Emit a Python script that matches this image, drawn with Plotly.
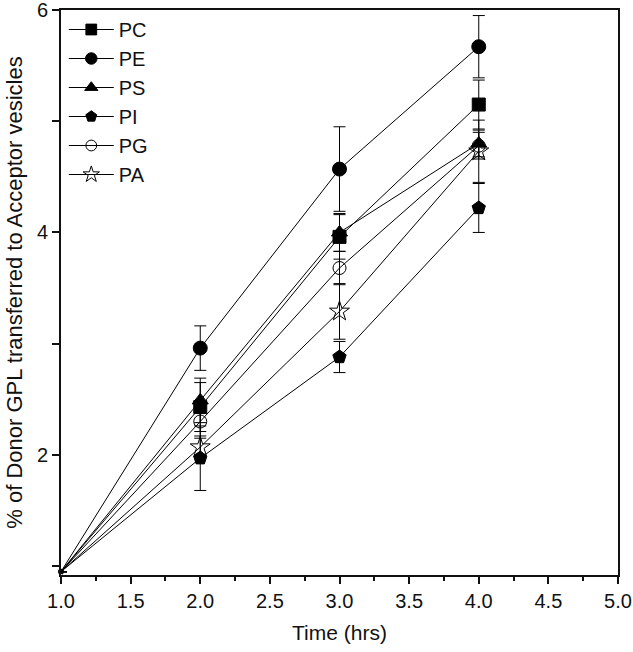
import plotly.graph_objects as go

time_hrs = [1, 2, 3, 4]

series_names = ["PC", "PE", "PS", "PI", "PG", "PA"]

pc_values = [0.95, 2.43, 3.96, 5.15]
pe_values = [0.95, 2.96, 4.57, 5.67]
ps_values = [0.95, 2.49, 4.00, 4.80]
pi_values = [0.95, 1.97, 2.88, 4.22]
pg_values = [0.95, 2.30, 3.68, 4.78]
pa_values = [0.95, 2.07, 3.29, 4.73]

pc_err = [0, 0.22, 0.20, 0.22]
pe_err = [0, 0.20, 0.38, 0.28]
ps_err = [0, 0.20, 0.17, 0.12]
pi_err = [0, 0.29, 0.14, 0.22]
pg_err = [0, 0.15, 0.15, 0.12]
pa_err = [0, 0.10, 0.25, 0.28]

x_tick_vals = [1.0, 1.5, 2.0, 2.5, 3.0, 3.5, 4.0, 4.5, 5.0]
y_tick_vals = [2, 4, 6]

values = [pc_values, pe_values, ps_values, pi_values, pg_values, pa_values]
errors = [pc_err, pe_err, ps_err, pi_err, pg_err, pa_err]

symbols = ["square", "circle", "triangle-up", "pentagon", "circle-open", "star-open"]
base_sizes = [13, 14, 14, 14, 13, 15]

fig = go.Figure()
for name, vals, errs, sym, sz in zip(series_names, values, errors, symbols, base_sizes):
    fig.add_trace(go.Scatter(
        x=time_hrs, y=vals, name=name, mode="lines+markers",
        line=dict(color="#000000", width=1),
        marker=dict(symbol=sym, size=[4, sz, sz, sz], color="#000000",
                    line=dict(color="#000000", width=1), opacity=1),
        error_y=dict(type="data", array=errs, visible=True,
                     color="#000000", thickness=1, width=6),
        cliponaxis=False,
    ))

fig.update_layout(
    template="none",
    width=633, height=652,
    margin=dict(l=61, r=15, t=10, b=77, autoexpand=False),
    paper_bgcolor="white", plot_bgcolor="white",
    font=dict(family="Liberation Sans, Arial, sans-serif", color="#111", size=20),
    legend=dict(x=0.005, y=1.0, xanchor="left", yanchor="top",
                bgcolor="rgba(0,0,0,0)", font=dict(size=20), itemwidth=45,
                tracegroupgap=0),
    showlegend=True,
)

fig.update_xaxes(
    automargin=False, ticklabeloverflow="allow",
    range=[1, 5], tickvals=x_tick_vals, tickformat=".1f",
    showline=True, linecolor="#111", linewidth=2, mirror=True,
    ticks="outside", ticklen=7, tickwidth=1.5, tickcolor="#111",
    minor=dict(dtick=0.25, tick0=0, ticks="outside", ticklen=4, tickwidth=1.5, tickcolor="#111"),
    showgrid=False, zeroline=False,
    title=dict(text="Time (hrs)", font=dict(size=21), standoff=14),
    tickfont=dict(size=20),
)
fig.update_yaxes(
    automargin=False, ticklabeloverflow="allow",
    range=[0.92, 6], tickvals=y_tick_vals,
    showline=True, linecolor="#111", linewidth=2, mirror=True,
    ticks="outside", ticklen=7, tickwidth=1.5, tickcolor="#111",
    minor=dict(dtick=1, tick0=0, ticks="outside", ticklen=7, tickwidth=1.5, tickcolor="#111"),
    showgrid=False, zeroline=False,
    title=dict(text="% of Donor GPL transferred to Acceptor vesicles", font=dict(size=22), standoff=8),
    tickfont=dict(size=20),
)

fig.write_html("out.html", config={"displayModeBar": False},
               post_script="document.body.style.margin='0';")
